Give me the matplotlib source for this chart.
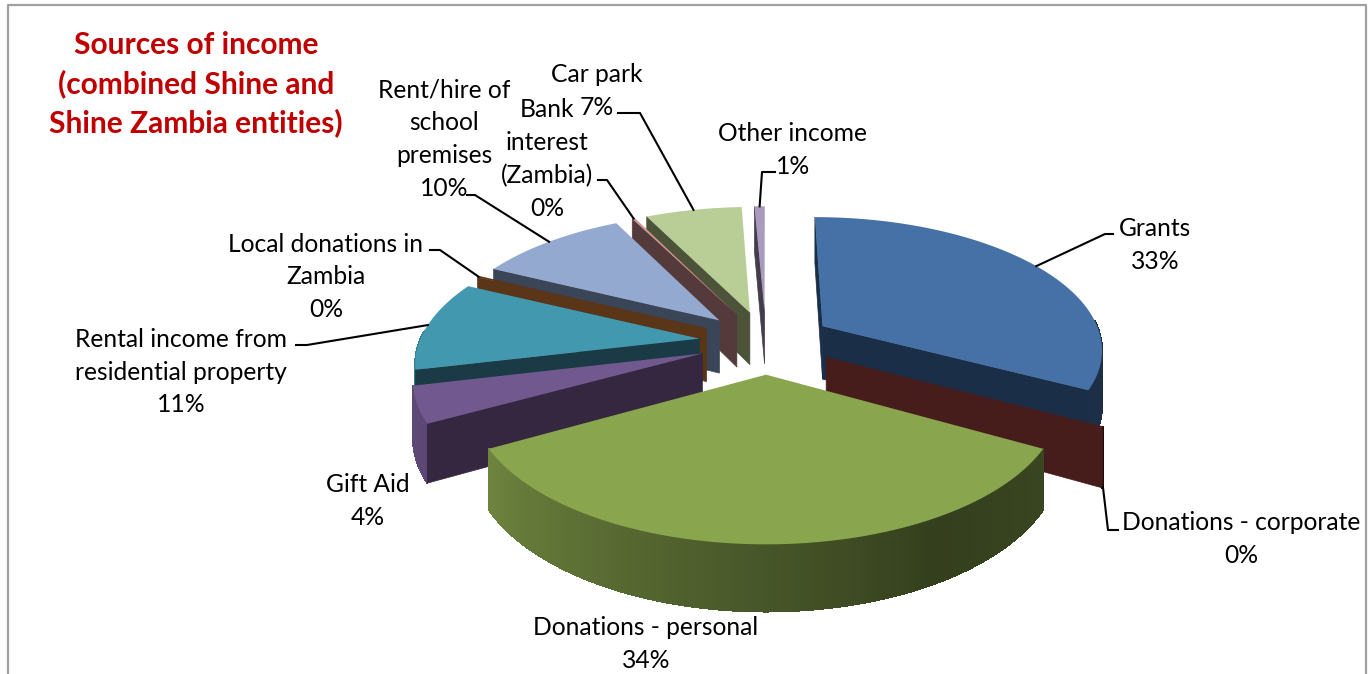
#!/usr/bin/env python3

import numpy as np
import matplotlib

matplotlib.use("Agg")
import matplotlib.pyplot as plt
from matplotlib.collections import PolyCollection

plt.rcParams["font.family"] = ["Lato", "DejaVu Sans"]

# data, in slice order (clockwise from 12 o'clock)
names = [
    "Grants",
    "Donations - corporate",
    "Donations - personal",
    "Gift Aid",
    "Rental income from\nresidential property",
    "Local donations in\nZambia",
    "Rent/hire of\nschool\npremises",
    "Bank\ninterest\n(Zambia)",
    "Car park",
    "Other income",
]
values = [32.8, 0.2, 34.0, 4.3, 10.8, 0.2, 10.2, 0.2, 6.6, 0.7]

top_colors = ["#4571A6", "#471D1B", "#89A54E", "#71588F", "#4198AF",
              "#5A3517", "#93A9CF", "#D19392", "#B9CD96", "#A99BBD"]
wall_colors = ["#1B2E47", "#471D1B", "#89A54E", "#35273F", "#1A3B46",
               "#5A3517", "#3A4558", "#543A3B", "#4C5339", "#433D4B"]

title = "Sources of income\n(combined Shine and\nShine Zambia entities)"

# label centre (pixels) per slice
label_x = [1155, 1241, 646, 368, 181, 326, 444, 547, 597, 793]
label_y = [245, 539, 644, 501, 372, 277, 139, 159, 91, 150]

# elbows of leader lines, None = no leader
elbows = [
    [(1105, 234), (1113, 234)],
    [(1108, 530), (1118, 530)],
    None,
    None,
    [(307, 345), (296, 345)],
    [(440, 250), (430, 250)],
    [(475, 195), (467, 195)],
    [(607, 180), (598, 180)],
    [(640, 113), (618, 113)],
    [(762, 172), (775, 172)],
]

# draw back to front
draw_order = [9, 8, 7, 6, 5, 4, 3, 0, 1, 2]

# projection of the pie, fitted by eye
cx, cy = 766.0, 342.0
rx, ry = 280.0, 131.0
persp = 0.159
explode = 0.24
depth = 54.0


def project(X, Y, down=0.0):
    q = 1.0 / (1.0 + persp * Y)
    return cx + rx * X * q, cy - ry * Y * q + depth * down * q


def wall_shade(ang):
    return np.interp(ang, [90, 120, 150, 180, 210, 245, 300],
                     [0.42, 0.42, 0.38, 0.52, 0.66, 0.82, 0.85])


def to_rgb_scaled(col, f):
    return tuple(np.array(matplotlib.colors.to_rgb(col)) * f)


def draw_slice(ax, a0, a1, i):
    mid = np.radians((a0 + a1) / 2)
    ox, oy = explode * np.sin(mid), explode * np.cos(mid)
    angs = np.radians(np.linspace(a0, a1, max(int(a1 - a0) * 2, 3)))
    X = ox + np.sin(angs)
    Y = oy + np.cos(angs)

    xt, yt = project(X, Y)
    xb, yb = project(X, Y, 1.0)
    ax_t, ay_t = project(ox, oy)
    ax_b, ay_b = project(ox, oy, 1.0)

    # outer wall, shaded strip by strip (front half only)
    quads = []
    cols = []
    for k in range(len(angs) - 1):
        if np.cos(angs[k]) > 0.05:
            continue
        quads.append([(xt[k], yt[k]), (xt[k + 1], yt[k + 1]),
                      (xb[k + 1], yb[k + 1]), (xb[k], yb[k])])
        shade = wall_shade(np.degrees(angs[k]))
        cols.append(to_rgb_scaled(top_colors[i], shade))
    if quads:
        pc = PolyCollection(quads, facecolors=cols, edgecolors=cols, linewidths=0.6,
                            antialiaseds=False, zorder=2)
        ax.add_collection(pc)

    # radial faces, only the ones turned to the viewer
    show_start = a0 < 1 or np.sin(np.radians(a0)) < 0
    show_end = np.sin(np.radians(a1)) > 0
    for k, show in ((0, show_start), (-1, show_end)):
        if show:
            ax.fill([ax_t, xt[k], xb[k], ax_b], [ay_t, yt[k], yb[k], ay_b],
                    fc=wall_colors[i], ec=wall_colors[i], lw=0.5, zorder=2)

    # top
    ax.fill(np.r_[ax_t, xt], np.r_[ay_t, yt], fc=top_colors[i], ec="none", zorder=2)


def main():
    fig = plt.figure(figsize=(13.69, 6.74), dpi=100)
    ax = fig.add_axes([0, 0, 1, 1])
    ax.set_xlim(0, 1369)
    ax.set_ylim(674, 0)
    ax.axis("off")

    # chart frame, bottom edge is cut off
    ax.plot([8, 8, 1366, 1366], [674, 5, 5, 674], color="#A0A0A0", lw=1.6, zorder=1)

    total = sum(values)
    edges = np.r_[0, np.cumsum(values)] / total * 360.0

    for i in draw_order:
        draw_slice(ax, edges[i], edges[i + 1], i)

    # leaders and labels
    for i, name in enumerate(names):
        pct = values[i] / total * 100
        ax.text(label_x[i], label_y[i], f"{name}\n{pct:.0f}%", ha="center", va="center",
                fontsize=17.7, color="black", linespacing=1.52, zorder=5)
        if elbows[i] is None:
            continue
        mid = np.radians((edges[i] + edges[i + 1]) / 2)
        px, py = project((1 + explode) * np.sin(mid), (1 + explode) * np.cos(mid),
                         1.0 if i == 1 else 0.0)
        xs = [px] + [p[0] for p in elbows[i]]
        ys = [py] + [p[1] for p in elbows[i]]
        ax.plot(xs, ys, color="black", lw=1.5, zorder=4)

    ax.text(196, 84, title, ha="center", va="center", fontsize=21.5, fontweight="bold",
            color="#C00000", linespacing=1.43, zorder=5)

    fig.savefig("out.png", dpi=100)


main()
